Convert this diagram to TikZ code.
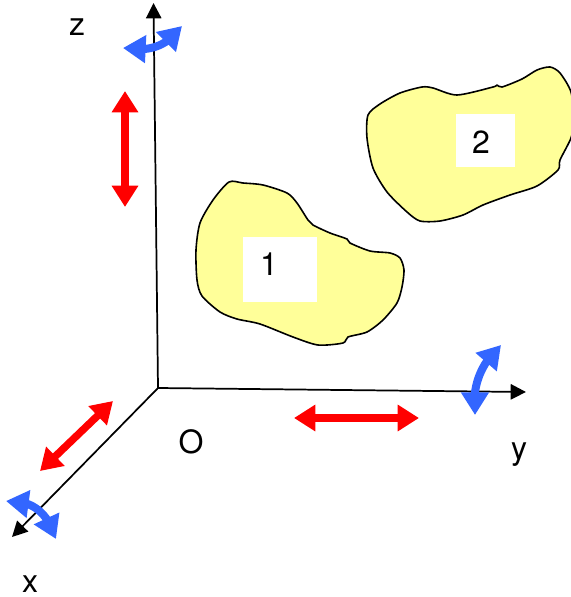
\documentclass[tikz,border=0pt]{standalone}
\usepackage{fontspec}
\setmainfont{TeX Gyre Heros}
\usetikzlibrary{arrows.meta,bending}
\definecolor{blobfill}{RGB}{255,255,153}
\definecolor{rotblue}{RGB}{51,102,255}
\tikzset{
  x=0.75pt,y=-0.75pt,
  blob/.style={draw=black,line width=1.2pt,fill=blobfill,line join=round},
  axis/.style={draw=black,line width=1.3pt,-{Triangle[length=11.5pt,width=11.5pt]}},
  redarrow/.style={draw=red,line width=5.6pt,{Triangle[length=16pt,width=19pt]}-{Triangle[length=16pt,width=19pt]}},
  bluearrow/.style={draw=rotblue,line width=6pt,{Triangle[length=17pt,width=20pt,flex=1]}-{Triangle[length=17pt,width=20pt,flex=1]}},
  lbl/.style={font=\fontsize{24}{28}\selectfont,text=black,inner sep=0pt,anchor=base},
}
\begin{document}
\begin{tikzpicture}
\useasboundingbox (0,0) rectangle (571,597);
\begin{scope}
\clip (0,0) rectangle (571,597);
\path[blob] plot[smooth cycle,tension=0.45] coordinates {
 (229,182) (243,183) (263,185) (287,193) (297,203) (308,220) (313,225) (330,233) (347,239) (350,243)
 (370,251) (390,253) (400,258) (404,270) (402,287) (397,303) (383,320) (367,332) (348,337) (343,343)
 (318,345) (293,337) (260,324) (237,319) (220,312) (202,296) (197,280) (196,250) (200,223) (213,200)};
\path[blob] plot[smooth cycle,tension=0.45] coordinates {
 (368,115) (380,104) (400,93) (422,87) (433,88) (457,95) (493,87) (497,85) (502,87) (522,79)
 (537,70) (550,67) (560,73) (571,92) (574,120) (571,138) (560,160) (558,170) (537,186) (510,195)
 (483,205) (463,215) (440,221) (420,221) (407,212) (387,192) (373,168) (367,138)};
\end{scope}
\fill[white] (243,237) rectangle (317,302);
\fill[white] (456,114) rectangle (515,167);
\node[lbl] (one) at (269,275) {1};
\node[lbl] (two) at (481,153) {2};
% axes
\coordinate (O) at (158,388);
\coordinate (zend) at (153.5,3);
\coordinate (yend) at (526,392);
\coordinate (xend) at (12,537);
\draw[axis] (O) -- (zend);
\draw[axis] (O) -- (yend);
\draw[axis] (O) -- (xend);
% translations
\coordinate (rz1) at (125,91); \coordinate (rz2) at (125,207);
\coordinate (ry1) at (294,418); \coordinate (ry2) at (419,418);
\coordinate (rx1) at (113,401); \coordinate (rx2) at (40,471);
\draw[redarrow] (rz1) -- (rz2);
\draw[redarrow] (ry1) -- (ry2);
\draw[redarrow] (rx1) -- (rx2);
% rotations
\coordinate (bz1) at (123,48); \coordinate (bz2) at (182,26);
\coordinate (by1) at (501,345); \coordinate (by2) at (475,415);
\coordinate (bx1) at (6,501); \coordinate (bx2) at (56,539);
\draw[bluearrow] (bz1) .. controls (150,52) and (166,47) .. (bz2);
\draw[bluearrow] (by1) .. controls (478,366) and (472,390) .. (by2);
\draw[bluearrow] (bx1) .. controls (30,500) and (47,510) .. (bx2);
% labels
\node[lbl] (lz) at (77,35) {z};
\node[lbl] (lO) at (191,453) {O};
\node[lbl] (ly) at (519,459) {y};
\node[lbl] (lx) at (30,592) {x};
\end{tikzpicture}
\end{document}
